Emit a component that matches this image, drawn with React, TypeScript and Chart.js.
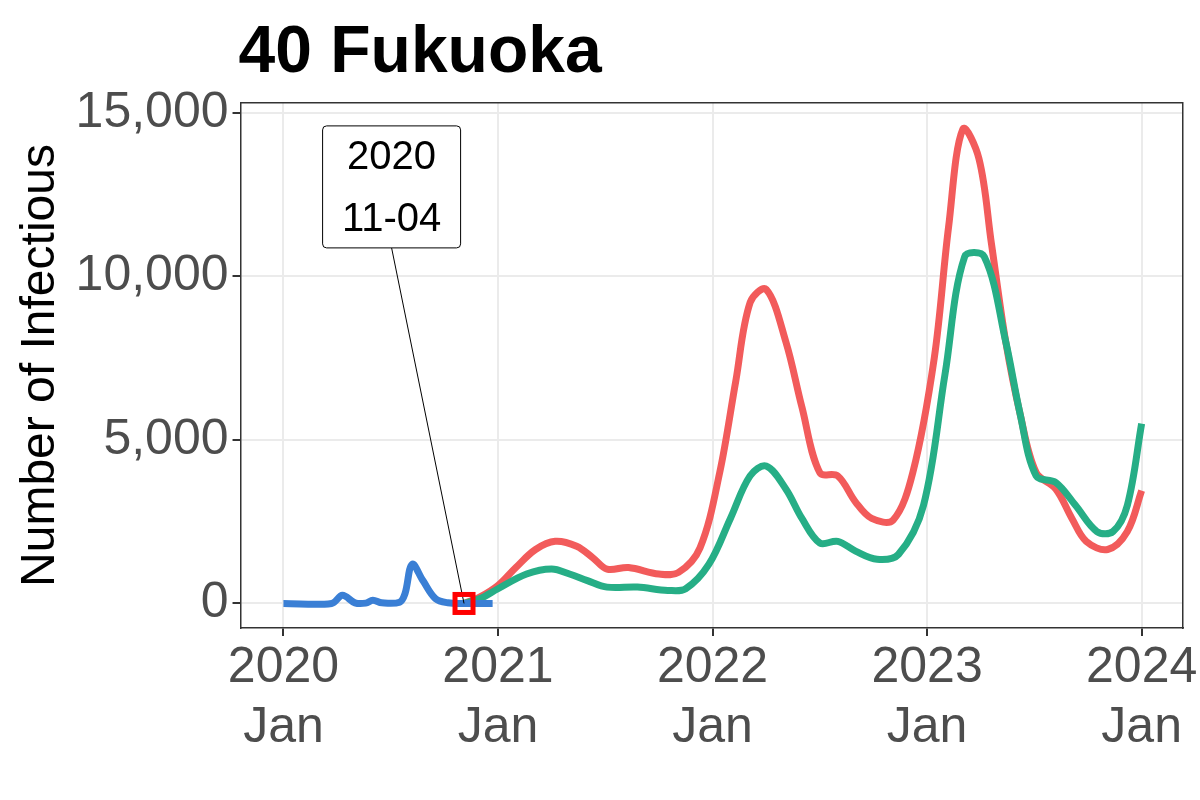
import { useEffect, useRef } from "react"
import { Chart, registerables } from "chart.js"

Chart.register(...registerables)

// x in months since 2020 Jan
const blueX = [0, 2.7, 3.3, 4, 4.6, 5, 5.5, 6.5, 6.8, 7.2, 7.8, 8.5, 9.2, 10.1, 11.7]
const blueY = [0, 0, 250, 20, 10, 100, 20, 40, 300, 1200, 700, 150, 20, 0, 0]
const redX = [10.1, 11, 12, 13, 14.1, 15.2, 16.4, 17.3, 18.1, 19.3, 21, 22.1, 23.3, 24.4, 25.3, 26.1, 27, 28.1, 29, 30, 31, 32, 32.9, 34.1, 35.2, 36.4, 37.2, 38, 38.9, 39.6, 40.4, 41.2, 42.1, 43.2, 44.1, 44.9, 46.1, 47.2, 48]
const redY = [0, 200, 550, 1100, 1650, 1900, 1750, 1400, 1050, 1100, 900, 950, 1700, 4000, 6800, 9200, 9600, 8000, 6000, 4000, 3900, 3100, 2600, 2550, 4000, 7500, 11500, 14500, 13600, 11000, 8000, 5800, 4000, 3500, 2600, 1900, 1650, 2200, 3450]
const greenX = [10.1, 11, 12, 13.6, 15, 16, 17, 18.1, 19.8, 21.5, 22.5, 23.8, 25, 26.1, 27, 28.1, 29, 30, 31, 32, 33.2, 34.4, 35.8, 37, 38.1, 39.2, 40.4, 41.2, 42.1, 43.2, 44.3, 45.5, 46.4, 47.2, 48]
const greenY = [0, 150, 450, 900, 1050, 900, 700, 500, 500, 400, 450, 1200, 2600, 3900, 4200, 3500, 2600, 1850, 1900, 1600, 1350, 1500, 3000, 7000, 10600, 10600, 8000, 5800, 3900, 3700, 3000, 2200, 2200, 3000, 5500]
const xTicks = [0, 12, 24, 36, 48]
const xTickLabels = [["2020", "Jan"], ["2021", "Jan"], ["2022", "Jan"], ["2023", "Jan"], ["2024", "Jan"]]
const yTicks = [0, 5000, 10000, 15000]
const markX = 10.1
const labelLines = ["2020", "11-04"]
const titleText = "40 Fukuoka"

const pts = (xs: number[], ys: number[]) => xs.map((x, i) => ({ x, y: ys[i] }))
const FONT = "Arial, 'Liberation Sans'"

const annotate = {
  id: "annotate",
  afterDatasetsDraw(chart: any) {
    const { ctx, scales, chartArea } = chart
    const px = scales.x.getPixelForValue(markX)
    const py = scales.y.getPixelForValue(0)
    const bx = scales.x.getPixelForValue(6.05)
    const top = scales.y.getPixelForValue(14600)
    const w = 138, h = 122
    ctx.save()
    ctx.strokeStyle = "#000"
    ctx.lineWidth = 1
    ctx.beginPath()
    ctx.moveTo(bx, top + h)
    ctx.lineTo(px, py)
    ctx.stroke()
    ctx.fillStyle = "#fff"
    ctx.beginPath()
    ctx.roundRect(bx - w / 2, top, w, h, 4)
    ctx.fill()
    ctx.stroke()
    ctx.fillStyle = "#000"
    ctx.font = `40px ${FONT}`
    ctx.textAlign = "center"
    ctx.textBaseline = "middle"
    ctx.fillText(labelLines[0], bx, top + 32)
    ctx.fillText(labelLines[1], bx, top + 94)
    ctx.strokeStyle = "#ff0000"
    ctx.lineWidth = 5
    ctx.strokeRect(px - 9, py - 9, 18, 18)
    // title
    ctx.font = `bold 66px ${FONT}`
    ctx.textAlign = "left"
    ctx.textBaseline = "alphabetic"
    ctx.fillText(titleText, chartArea.left - 2, 72)
    ctx.restore()
  },
}

export default function App() {
  const ref = useRef<HTMLCanvasElement>(null)
  useEffect(() => {
    if (!ref.current) return
    document.body.style.margin = "0"
    const line = (data: any, color: string) => ({
      data, borderColor: color, borderWidth: 7, pointRadius: 0, tension: 0.35, fill: false,
    })
    const tickFont = { family: FONT, size: 50 }
    const chart = new Chart(ref.current, {
      type: "line",
      data: {
        datasets: [
          line(pts(blueX, blueY), "#3a7fd5"),
          line(pts(greenX, greenY), "#26ae86"),
          line(pts(redX, redY), "#f25b5b"),
        ],
      },
      options: {
        animation: false,
        responsive: false,
        layout: { padding: { left: 10, right: 14, top: 103, bottom: 40 } },
        plugins: { legend: { display: false }, tooltip: { enabled: false } },
        scales: {
          x: {
            type: "linear", min: -2.4, max: 50.3,
            afterBuildTicks: (s: any) => { s.ticks = xTicks.map((v) => ({ value: v })) },
            ticks: {
              color: "#4d4d4d", font: tickFont, padding: 2,
              callback: (v: any) => xTickLabels[xTicks.indexOf(Number(v))],
            },
            grid: { color: "#ebebeb", lineWidth: 2, tickColor: "#333", tickLength: 8 },
            border: { color: "#333", width: 1.5 },
          },
          y: {
            min: -750, max: 15300,
            afterBuildTicks: (s: any) => { s.ticks = yTicks.map((v) => ({ value: v })) },
            ticks: {
              color: "#4d4d4d", font: tickFont, padding: 4,
              callback: (v: any) => Number(v).toLocaleString("en-US"),
            },
            grid: { color: "#ebebeb", lineWidth: 2, tickColor: "#333", tickLength: 8 },
            border: { color: "#333", width: 1.5 },
            title: {
              display: true, text: "Number of Infectious", color: "#000",
              font: { family: FONT, size: 48 }, padding: 2,
            },
          },
          x2: { position: "top", display: true, ticks: { display: false }, grid: { display: false, drawTicks: false }, border: { color: "#333", width: 1.5 } },
          y2: { position: "right", display: true, ticks: { display: false }, grid: { display: false, drawTicks: false }, border: { color: "#333", width: 1.5 } },
        },
      } as any,
      plugins: [annotate],
    })
    return () => chart.destroy()
  }, [])
  return <canvas ref={ref} width={1200} height={800} style={{ display: "block" }} />
}
